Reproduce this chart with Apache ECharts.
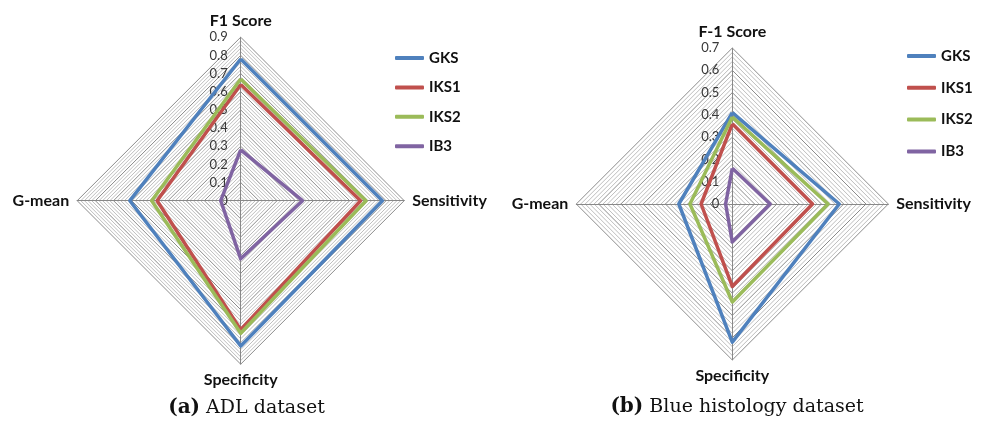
<!DOCTYPE html>
<html>
<head>
<meta charset="utf-8">
<script src="https://cdn.jsdelivr.net/npm/echarts@6/dist/echarts.min.js"></script>
<style>
  html, body { margin: 0; padding: 0; background: #fff; }
  #chart { width: 984px; height: 421px; }
</style>
</head>
<body>
<div id="chart"></div>
<script>
// Indicator order as ECharts lays them out (counter-clockwise from the top)
const axesA = ['F1 Score', 'G-mean', 'Specificity', 'Sensitivity'];
const axesB = ['F-1 Score', 'G-mean', 'Specificity', 'Sensitivity'];
const methods = ['GKS', 'IKS1', 'IKS2', 'IB3'];

// ADL dataset: [F1, G-mean, Specificity, Sensitivity]
const adlGKS  = [0.78, 0.61, 0.80, 0.78];
const adlIKS1 = [0.64, 0.46, 0.71, 0.66];
const adlIKS2 = [0.67, 0.49, 0.73, 0.69];
const adlIB3  = [0.28, 0.11, 0.32, 0.34];

// Blue histology dataset: [F1, G-mean, Specificity, Sensitivity]
const bluGKS  = [0.41, 0.24, 0.62, 0.48];
const bluIKS1 = [0.36, 0.14, 0.37, 0.36];
const bluIKS2 = [0.39, 0.19, 0.44, 0.43];
const bluIB3  = [0.16, 0.03, 0.17, 0.17];

// Axis ranges: maximum, major step, minor step
const scaleA = [0.9, 0.1, 0.02];
const scaleB = [0.7, 0.1, 0.02];

const palette = ['#4F81BD', '#C0504D', '#9BBB59', '#8064A2'];
const labelFont = 'Lato, "Open Sans", sans-serif';

// Minor grid: one single-ring radar per minor step, sized by its share of the full range
function minorRings(names, scale, center, radius) {
  const steps = Math.round(scale[0] / scale[2]);
  const perMajor = Math.round(scale[1] / scale[2]);
  const rings = [];
  for (let k = 1; k <= steps; k++) {
    if (k % perMajor === 0) continue;
    rings.push({
      center: center, radius: radius * k / steps, startAngle: 90, shape: 'polygon',
      splitNumber: 1,
      indicator: names.map(n => ({ name: n, min: 0, max: scale[2] * k })),
      axisName: { show: false },
      axisLine: { show: false },
      axisTick: { show: false },
      axisLabel: { show: false },
      splitArea: { show: false },
      splitLine: { lineStyle: { color: '#bebebe', width: 1 } },
      silent: true
    });
  }
  return rings;
}

function majorRadar(names, scale, center, radius, nameGap) {
  return {
    center: center, radius: radius, startAngle: 90, shape: 'polygon',
    splitNumber: Math.round(scale[0] / scale[1]),
    nameGap: nameGap,
    indicator: names.map((n, i) => {
      const ind = { name: n, min: 0, max: scale[0] };
      if (i === 0) {
        ind.axisLabel = {
          show: true, color: '#383838', fontSize: 13, fontFamily: labelFont,
          margin: 13, showMinLabel: true, showMaxLabel: true,
          formatter: v => String(Math.round(v * 10) / 10)
        };
      }
      return ind;
    }),
    axisName: { color: '#111', fontSize: 16, fontWeight: 'bold', fontFamily: labelFont },
    axisLine: { show: true, lineStyle: { color: '#888888', width: 1 } },
    axisTick: { show: false },
    axisLabel: { show: false },
    splitArea: { show: false },
    splitLine: { lineStyle: { color: '#8c8c8c', width: 1 } }
  };
}

function radarSeries(radarIndex, rows) {
  return {
    type: 'radar',
    radarIndex: radarIndex,
    symbol: 'none',
    z: 5,
    data: rows.map((vals, i) => ({
      name: methods[i],
      value: vals,
      lineStyle: { color: palette[i], width: 3.5 },
      itemStyle: { color: palette[i] }
    }))
  };
}

function legendAt(left, top, gap) {
  return {
    orient: 'vertical', left: left, top: top,
    data: methods, icon: 'roundRect',
    itemWidth: 29, itemHeight: 4, itemGap: gap,
    selectedMode: false,
    textStyle: { color: '#111', fontSize: 15, fontWeight: 'bold', fontFamily: labelFont, lineHeight: 16 }
  };
}

const captionFont = '"DejaVu Serif", serif';

const centerA = [240.7, 200.7], radiusA = 163.5;
const centerB = [732.3, 204], radiusB = 156;

const ringsA = minorRings(axesA, scaleA, centerA, radiusA);
const ringsB = minorRings(axesB, scaleB, centerB, radiusB);
const radars = ringsA.concat(ringsB);
const majorA = radars.length;
radars.push(majorRadar(axesA, scaleA, centerA, radiusA, 8));
const majorB = radars.length;
radars.push(majorRadar(axesB, scaleB, centerB, radiusB, 8));

const chart = echarts.init(document.getElementById('chart'), null, { renderer: 'canvas' });
chart.setOption({
  animation: false,
  backgroundColor: '#fff',
  radar: radars,
  legend: [
    legendAt(390, 45, 13.4),
    legendAt(902, 43, 15.8)
  ],
  series: [
    radarSeries(majorA, [adlGKS, adlIKS1, adlIKS2, adlIB3]),
    radarSeries(majorB, [bluGKS, bluIKS1, bluIKS2, bluIB3])
  ],
  graphic: [
    {
      type: 'text', x: 246.5, y: 408,
      style: {
        text: '{b|(a)} ADL dataset', align: 'center', verticalAlign: 'middle',
        font: '19px ' + captionFont, fill: '#111',
        rich: { b: { font: 'bold 20px ' + captionFont, fill: '#111' } }
      }
    },
    {
      type: 'text', x: 737, y: 407,
      style: {
        text: '{b|(b)} Blue histology dataset', align: 'center', verticalAlign: 'middle',
        font: '19px ' + captionFont, fill: '#111',
        rich: { b: { font: 'bold 20px ' + captionFont, fill: '#111' } }
      }
    }
  ]
});
</script>
</body>
</html>
